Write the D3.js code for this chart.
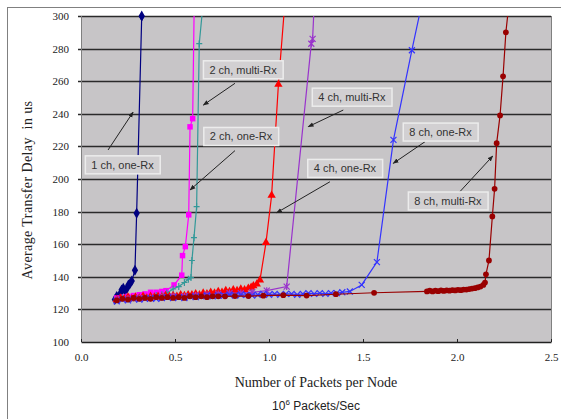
<!DOCTYPE html>
<html>
<head>
<meta charset="utf-8">
<script src="https://cdn.jsdelivr.net/npm/d3@7"></script>
<style>
  body { margin: 0; background: #fff; }
  svg { display: block; }
  .tick text { font-family: "Liberation Serif", "DejaVu Serif", serif; font-size: 11px; fill: #222; }
  .lbl text { font-family: "Liberation Sans", Arial, sans-serif; font-size: 11px; fill: #333; }
</style>
</head>
<body>
<script>
"use strict";
// axis ticks
var xTicks = [0, 0.5, 1.0, 1.5, 2.0, 2.5];
var yTicks = [100, 120, 140, 160, 180, 200, 220, 240, 260, 280, 300];

// series names, colours, marker kinds
var seriesNames = ["1 ch, one-Rx", "2 ch, one-Rx", "2 ch, multi-Rx", "4 ch, one-Rx",
                   "4 ch, multi-Rx", "8 ch, one-Rx", "8 ch, multi-Rx"];
var seriesColors = ["#000080", "#ff00ff", "#339999", "#ff0000", "#9933cc", "#3333ff", "#990000"];
var seriesMarks = ["diamond", "square", "plus", "triangle", "star", "cross", "circle"];

// values: [10^6 packets/s, delay us]; curves leave the top edge
var ch1one = [[0.18,126],[0.19,128],[0.20,127],[0.21,130],[0.216,132],[0.225,133],[0.235,131.5],
  [0.245,133],[0.252,135],[0.262,136],[0.27,137.5],[0.287,144],[0.296,179],[0.323,300]];
var ch2one = [[0.19,127],[0.22,127.5],[0.25,128],[0.28,128.5],[0.31,129],[0.34,129.5],[0.37,130.5],
  [0.40,130.5],[0.43,131],[0.452,131.5],[0.495,135],[0.536,141],[0.54,153],[0.555,158.5],
  [0.573,178],[0.58,232],[0.594,237],[0.602,306]];
var ch2multi = [[0.19,126],[0.22,127],[0.25,126.5],[0.28,127],[0.31,127.5],[0.34,127.5],[0.37,128],
  [0.40,128.5],[0.43,129],[0.456,130],[0.49,132.5],[0.52,134],[0.55,136.5],[0.571,138.5],
  [0.585,139.5],[0.59,150],[0.601,164],[0.615,183],[0.629,283],[0.648,306]];
var ch4one = [[0.19,126],[0.21,127],[0.23,126.5],[0.25,127.5],[0.27,126.5],[0.29,127.5],[0.31,127],
  [0.33,128],[0.35,127],[0.37,128],[0.39,127.5],[0.41,128],[0.43,127.5],[0.45,128.5],[0.47,128],
  [0.49,128.5],[0.51,128],[0.53,129],[0.55,128.5],[0.57,129],[0.59,129],[0.61,129.5],[0.63,129],
  [0.65,130],[0.67,129.5],[0.69,130.5],[0.71,130],[0.73,131],[0.75,130.5],[0.77,131.5],[0.79,131],
  [0.81,132],[0.83,131.5],[0.85,132.5],[0.87,132],[0.89,133],[0.905,133.5],[0.917,134.5],
  [0.935,135.5],[0.952,138],[0.984,161],[1.014,190],[1.05,258],[1.083,306]];
var ch4multi = [[0.19,126],[0.25,126.5],[0.31,127],[0.37,127],[0.43,127.5],[0.49,128],[0.55,128],
  [0.61,128.5],[0.67,129],[0.73,129.5],[0.79,130],[0.85,130],[0.91,130.5],[0.988,131.5],
  [1.094,134],[1.225,283],[1.232,286],[1.24,306]];
var ch8one = [[0.19,125],[0.22,126],[0.25,125.5],[0.28,126.5],[0.31,126],[0.34,126.5],[0.37,127],
  [0.40,126.5],[0.43,127],[0.46,127.5],[0.49,127],[0.52,127.5],[0.55,127],[0.58,128],[0.61,127.5],
  [0.64,128],[0.67,128.5],[0.70,128],[0.73,128.5],[0.76,128.5],[0.79,129],[0.82,128.5],[0.85,129],
  [0.88,129],[0.91,128.5],[0.94,129],[0.97,129.5],[1.0,129],[1.03,129.5],[1.06,129],[1.09,129.5],
  [1.12,129.5],[1.15,129],[1.18,129.5],[1.21,130],[1.24,129.5],[1.27,130],[1.30,129.5],[1.33,130],
  [1.36,130],[1.39,130.5],[1.43,131],[1.493,135],[1.574,149],[1.662,224],[1.76,279],[1.81,306]];
var ch8multi = [[0.19,125.5],[0.22,126.5],[0.25,126],[0.28,127],[0.31,126.5],[0.34,127],[0.37,126.5],
  [0.40,127.5],[0.43,127],[0.46,127.5],[0.49,127],[0.52,127.5],[0.55,127],[0.58,128],[0.61,127.5],
  [0.64,128],[0.67,127.5],[0.70,128],[0.73,128],[0.766,128],[0.819,128.2],[0.89,128.2],[0.97,128.4],
  [1.076,128.7],[1.2,128.5],[1.356,129.3],[1.559,130.2],[1.84,131],[1.855,131.5],[1.87,131],
  [1.885,131.5],[1.90,131.2],[1.915,131.6],[1.93,131.3],[1.945,131.7],[1.96,131.5],[1.975,131.8],
  [1.99,131.6],[2.005,132],[2.02,131.8],[2.035,132.2],[2.05,132.2],[2.065,132.5],[2.08,132.8],
  [2.095,133],[2.11,133.5],[2.125,134],[2.14,135],[2.149,136.5],[2.154,141.5],[2.17,150],
  [2.188,177],[2.2,194],[2.211,222],[2.229,239],[2.245,263],[2.26,290],[2.275,306]];
var seriesData = [ch1one, ch2one, ch2multi, ch4one, ch4multi, ch8one, ch8multi];

// callout boxes: label centre and arrow, in data units
var callouts = [
  {text: "1 ch, one-Rx",   at: [0.221, 208.6], from: [0.144, 217.8], to: [0.277, 241]},
  {text: "2 ch, multi-Rx", at: [0.862, 266.9], from: [0.819, 258.7], to: [0.651, 245.4]},
  {text: "2 ch, one-Rx",   at: [0.851, 226.0], from: [0.819, 217.4], to: [0.580, 193.3]},
  {text: "4 ch, multi-Rx", at: [1.441, 250.1], from: [1.395, 242.3], to: [1.209, 232.1]},
  {text: "4 ch, one-Rx",   at: [1.404, 206.4], from: [1.324, 198.3], to: [1.041, 179.3]},
  {text: "8 ch, one-Rx",   at: [1.912, 228.7], from: [1.830, 222.9], to: [1.661, 209.6]},
  {text: "8 ch, multi-Rx", at: [1.952, 186.4], from: [2.016, 192.3], to: [2.190, 214.1]}
];

var W = 561, H = 419;
var m = {left: 81, top: 16, right: 10, bottom: 77};
var iw = W - m.left - m.right, ih = H - m.top - m.bottom;

var svg = d3.select("body").append("svg").attr("width", W).attr("height", H);

// outer frame
svg.append("rect").attr("x", 7.5).attr("y", 7.5).attr("width", W).attr("height", H)
  .attr("fill", "#fff").attr("stroke", "#808080");

var x = d3.scaleLinear().domain([0, 2.5]).range([0, iw]);
var y = d3.scaleLinear().domain([100, 300]).range([ih, 0]);

var defs = svg.append("defs");
defs.append("clipPath").attr("id", "plotclip")
  .append("rect").attr("x", 0).attr("y", 0).attr("width", iw).attr("height", ih);

var g = svg.append("g").attr("transform", "translate(" + m.left + "," + m.top + ")");

g.append("rect").attr("width", iw).attr("height", ih).attr("fill", "#c7c5c7");

// grid
g.append("g").selectAll("line").data(yTicks.slice(1)).enter().append("line")
  .attr("x1", -3).attr("x2", iw)
  .attr("y1", function(d) { return Math.round(y(d)) + 0.5; })
  .attr("y2", function(d) { return Math.round(y(d)) + 0.5; })
  .attr("stroke", "#2a2a2a").attr("stroke-width", 1.3);

g.append("line").attr("x1", iw + 0.5).attr("x2", iw + 0.5).attr("y1", 0).attr("y2", ih)
  .attr("stroke", "#808080");
g.append("line").attr("x1", 0.5).attr("x2", 0.5).attr("y1", 0).attr("y2", ih)
  .attr("stroke", "#808080");

var xAxis = g.append("g").attr("transform", "translate(0," + ih + ")")
  .call(d3.axisBottom(x).tickValues(xTicks).tickFormat(d3.format(".1f"))
    .tickSizeInner(-3).tickSizeOuter(0).tickPadding(11));
xAxis.select(".domain").attr("stroke", "#222").attr("stroke-width", 1.3);
xAxis.selectAll(".tick line").attr("stroke", "#222");

var yAxis = g.append("g")
  .call(d3.axisLeft(y).tickValues(yTicks).tickSize(0).tickPadding(12));
yAxis.select(".domain").remove();

// series
var line = d3.line().x(function(d) { return x(d[0]); }).y(function(d) { return y(d[1]); });
var symbols = {
  diamond: d3.symbol(d3.symbolDiamond, 34)(),
  square: d3.symbol(d3.symbolSquare, 30)(),
  triangle: d3.symbol(d3.symbolTriangle, 30)(),
  circle: d3.symbol(d3.symbolCircle, 26)(),
  plus: "M-3,0L3,0M0,-3.5L0,3.5",
  cross: "M-3,-3L3,3M-3,3L3,-3",
  star: "M-3,-3L3,3M-3,3L3,-3M0,-3.5L0,3.5"
};

var plot = g.append("g").attr("clip-path", "url(#plotclip)");
seriesData.forEach(function(data, i) {
  var sg = plot.append("g").attr("class", "series");
  var c = seriesColors[i];
  sg.append("path").datum(data).attr("d", line)
    .attr("fill", "none").attr("stroke", c).attr("stroke-width", 1.2);
  var stroked = ["plus", "cross", "star"].indexOf(seriesMarks[i]) >= 0;
  sg.selectAll("path.mk").data(data).enter().append("path").attr("class", "mk")
    .attr("transform", function(d) { return "translate(" + x(d[0]) + "," + y(d[1]) + ")"; })
    .attr("d", symbols[seriesMarks[i]])
    .attr("fill", stroked ? "none" : c)
    .attr("stroke", stroked ? c : "none")
    .attr("stroke-width", 1.2);
});

// navy series' last marker sits on the top edge, drawn unclipped
var lastNavy = ch1one[ch1one.length - 1];
g.append("path").attr("transform", "translate(" + x(lastNavy[0]) + "," + y(lastNavy[1]) + ")")
  .attr("d", symbols.diamond).attr("fill", seriesColors[0]);

// callouts
defs.append("marker").attr("id", "ah")
  .attr("viewBox", "0 -4 8 8").attr("refX", 7).attr("refY", 0)
  .attr("markerWidth", 6).attr("markerHeight", 6).attr("orient", "auto")
  .append("path").attr("d", "M0,-3L8,0L0,3Z").attr("fill", "#222");

var lbl = g.append("g").attr("class", "lbl");
callouts.forEach(function(c) {
  lbl.append("line")
    .attr("x1", x(c.from[0])).attr("y1", y(c.from[1]))
    .attr("x2", x(c.to[0])).attr("y2", y(c.to[1]))
    .attr("stroke", "#222").attr("stroke-width", 1).attr("marker-end", "url(#ah)");
  var box = lbl.append("rect");
  var t = lbl.append("text").attr("x", x(c.at[0])).attr("y", y(c.at[1]))
    .attr("text-anchor", "middle").attr("dy", "0.35em").text(c.text);
  var bb = t.node().getBBox();
  box.attr("x", bb.x - 6).attr("y", bb.y - 3).attr("width", bb.width + 12).attr("height", bb.height + 6)
    .attr("fill", "#d2d0d2").attr("stroke", "#ececec").attr("stroke-width", 1.5);
});

// titles
svg.append("text").attr("transform", "translate(32,190) rotate(-90)")
  .attr("text-anchor", "middle")
  .style("font-family", "'Liberation Serif', serif").style("font-size", "14px")
  .style("letter-spacing", "0.4px").attr("fill", "#222")
  .text("Average Transfer Delay  in us").attr("xml:space", "preserve");

svg.append("text").attr("x", m.left + iw / 2).attr("y", 387).attr("text-anchor", "middle")
  .style("font-family", "'Liberation Serif', serif").style("font-size", "14px").attr("fill", "#222")
  .text("Number of Packets per Node");

var sub = svg.append("text").attr("x", m.left + iw / 2).attr("y", 410).attr("text-anchor", "middle")
  .style("font-family", "'Liberation Sans', Arial, sans-serif").style("font-size", "12px").attr("fill", "#222");
sub.append("tspan").text("10");
sub.append("tspan").attr("dy", -5).style("font-size", "8px").text("6");
sub.append("tspan").attr("dy", 5).text(" Packets/Sec");
</script>
</body>
</html>
